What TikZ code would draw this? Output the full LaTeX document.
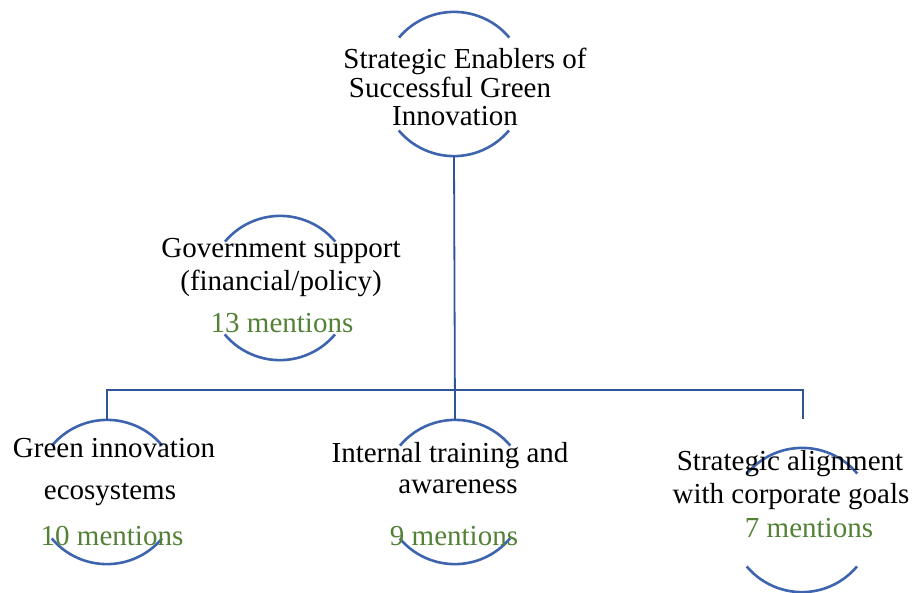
\documentclass[tikz,border=0pt]{standalone}
\usepackage{fontspec}
\setmainfont{Liberation Serif}
\definecolor{linkblue}{RGB}{47,85,151}
\definecolor{arcblue}{RGB}{62,100,174}
\definecolor{countgreen}{RGB}{83,129,53}
\begin{document}
\begin{tikzpicture}[x=1pt,y=-1pt,
  hub/.style={circle,minimum size=144pt,inner sep=0pt,draw=none},
  arcline/.style={draw=arcblue,line width=2.6pt},
  conn/.style={draw=linkblue,line width=1.8pt},
  lbl/.style={inner sep=0pt,anchor=base,font=\fontsize{29}{31}\selectfont,text=black},
  cnt/.style={lbl,text=countgreen}]
\useasboundingbox (0,0) rectangle (912,592);

% circle nodes
\node[hub] (c0) at (454,84) {};
\node[hub] (cg) at (280,288) {};
\node[hub] (c1) at (107,492) {};
\node[hub] (c2) at (455,492) {};
\node[hub] (c3) at (802,520) {};

% open circles (top and bottom arcs)
\foreach \n in {c0,cg,c1,c2,c3}{
  \draw[arcline] (\n.40) arc[start angle=40,end angle=140,radius=72pt];
  \draw[arcline] (\n.220) arc[start angle=220,end angle=320,radius=72pt];
}

% connectors
\coordinate (rtop) at (803,390);
\coordinate (rend) at (803,419);
\draw[conn] (c0.south) -- (c2.north);
\draw[conn] (c1.north) |- (rtop) -- (rend);

% texts
\node[lbl] (t0a) at (465,68) {Strategic Enablers of};
\node[lbl] (t0b) at (450,97) {Successful Green};
\node[lbl] (t0c) at (455,125) {Innovation};

\node[lbl] (tga) at (281,257) {Government support};
\node[lbl] (tgb) at (281,290) {(financial/policy)};
\node[cnt] (tgc) at (282,332) {13 mentions};

\node[lbl] (t1a) at (114,457) {Green innovation};
\node[lbl] (t1b) at (110,499) {ecosystems};
\node[cnt] (t1c) at (112,545) {10 mentions};

\node[lbl] (t2a) at (450,462) {Internal training and};
\node[lbl] (t2b) at (458,493) {awareness};
\node[cnt] (t2c) at (454,545) {9 mentions};

\node[lbl] (t3a) at (790,470) {Strategic alignment};
\node[lbl] (t3b) at (791,503) {with corporate goals};
\node[cnt] (t3c) at (809,537) {7 mentions};
\end{tikzpicture}
\end{document}
